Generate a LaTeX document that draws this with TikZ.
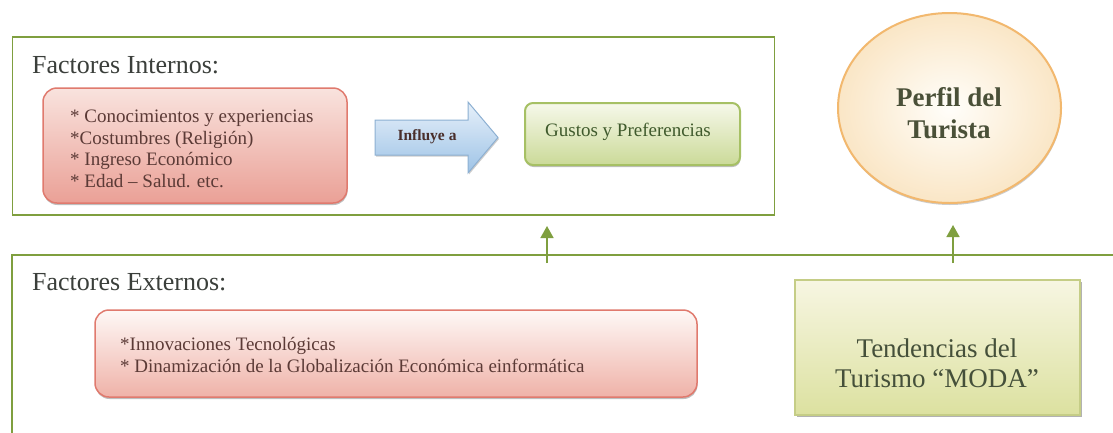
\documentclass[tikz,border=0pt]{standalone}
\usepackage{fontspec}
\setmainfont{Liberation Serif}
\usetikzlibrary{shapes.geometric,arrows.meta,shadows}
\definecolor{framegreen}{HTML}{7F9F3F}
\definecolor{headtxt}{HTML}{3B3F3B}
\definecolor{pinktxt}{HTML}{5B3A36}
\definecolor{pinkborder}{HTML}{E07A6E}
\definecolor{pinktop}{HTML}{F9E3DE}
\definecolor{pinkbot}{HTML}{EAA096}
\definecolor{pinktopb}{HTML}{FEF8F6}
\definecolor{pinkbotb}{HTML}{EFB2A8}
\definecolor{gustop}{HTML}{F6F8EA}
\definecolor{gusbot}{HTML}{CBDA98}
\definecolor{gusborder}{HTML}{A6C064}
\definecolor{gustxt}{HTML}{3F5A2C}
\definecolor{tentop}{HTML}{F7F6E2}
\definecolor{tenbot}{HTML}{DCE1A0}
\definecolor{tenborder}{HTML}{C5CD86}
\definecolor{tentxt}{HTML}{45503A}
\definecolor{arrtop}{HTML}{E6F0FA}
\definecolor{arrbot}{HTML}{9EC3E6}
\definecolor{arrborder}{HTML}{8DB0D2}
\definecolor{circin}{HTML}{FFFEFA}
\definecolor{circout}{HTML}{FAE6C6}
\definecolor{circborder}{HTML}{F2B86E}
\definecolor{perfiltxt}{HTML}{4A5038}
\tikzset{
  frame/.style={draw=framegreen, line width=1.5pt, rectangle, inner sep=0pt},
  heading/.style={font=\fontsize{26}{30}\selectfont, text=headtxt, inner sep=0pt},
  pinkbox/.style={draw=pinkborder, line width=1.5pt, rounded corners=14pt, inner sep=0pt,
    top color=pinktop, bottom color=pinkbot,
    drop shadow={shadow xshift=0.5pt, shadow yshift=-2pt, opacity=.25, fill=black}},
  pinkboxb/.style={draw=pinkborder, line width=1.5pt, rounded corners=14pt, inner sep=0pt,
    top color=pinktopb, bottom color=pinkbotb,
    drop shadow={shadow xshift=0.5pt, shadow yshift=-2pt, opacity=.25, fill=black}},
  listtxt/.style={font=\fontsize{19}{21.5}\selectfont, text=pinktxt, align=left, inner sep=0pt},
  gusbox/.style={draw=gusborder, line width=2pt, rounded corners=8pt, inner sep=0pt,
    top color=gustop, bottom color=gusbot,
    drop shadow={shadow xshift=0.5pt, shadow yshift=-2pt, opacity=.25, fill=black}},
  tenbox/.style={draw=tenborder, line width=2pt, inner sep=0pt,
    top color=tentop, bottom color=tenbot,
    drop shadow={shadow xshift=1.5pt, shadow yshift=-2pt, opacity=.3, fill=black}},
  bigarrow/.style={draw=arrborder, line width=1pt, top color=arrtop, bottom color=arrbot,
    drop shadow={shadow xshift=1pt, shadow yshift=-1.5pt, opacity=.2, fill=black}},
  upconn/.style={draw=framegreen, line width=1.5pt, -{Triangle[width=13pt,length=12pt]}},
}
\begin{document}
\begin{tikzpicture}[x=1pt,y=-1pt]
\useasboundingbox (0,0) rectangle (1113,432);
\fill[white] (0,0) rectangle (1113,432);
\clip (0,0) rectangle (1113,432);

% internal factors frame
\node[frame, minimum width=762pt, minimum height=178pt] (int) at (393.5,126) {};
\node[heading, anchor=base west] (inthead) at (32,73) {Factores Internos:};
\node[pinkbox, minimum width=304pt, minimum height=115pt] (intlist) at (195,145.5) {};
\node[listtxt, anchor=west] (intlisttxt) at (70,149) {* Conocimientos y experiencias\\*Costumbres (Religión)\\* Ingreso Económico\\* Edad – Salud. etc.};

% influence arrow (block arrow drawn as a shape)
\path[bigarrow] (375,120) -- (468,120) -- (468,102) -- (498,137.5) -- (468,173) -- (468,155) -- (375,155) -- cycle;
\node[font=\bfseries\fontsize{15.5}{18}\selectfont, text=pinktxt!80!black, inner sep=0pt] (infltxt) at (427,137) {Influye a};

% gustos
\node[gusbox, minimum width=215pt, minimum height=62pt] (gustos) at (632.5,134) {};
\node[font=\fontsize{19}{22}\selectfont, text=gustxt, inner sep=0pt] (gustostxt) at (628,132) {Gustos y Preferencias};

% perfil circle
\node[ellipse, draw=circborder, line width=2pt, inner color=circin, outer color=circout,
  minimum width=223pt, minimum height=190pt, inner sep=0pt,
  drop shadow={shadow xshift=0.5pt, shadow yshift=-2pt, opacity=.2, fill=black}] (perfil) at (949.5,108) {};
\node[font=\bfseries\fontsize{27}{32}\selectfont, text=perfiltxt, align=center, inner sep=0pt] (perfiltxtn) at (949,113) {Perfil del\\Turista};

% external factors frame (extends beyond the picture)
\node[frame, minimum width=1128pt, minimum height=205pt] (ext) at (576,357.5) {};
\node[heading, anchor=base west] (exthead) at (32,290) {Factores Externos:};
\node[pinkboxb, minimum width=602pt, minimum height=87pt] (extlist) at (396,353.5) {};
\node[listtxt, anchor=west, font=\fontsize{19}{22}\selectfont] (extlisttxt) at (120,355) {*Innovaciones Tecnológicas\\* Dinamización de la Globalización Económica einformática};

% tendencias
\node[tenbox, minimum width=285pt, minimum height=135pt] (tend) at (937.5,347.5) {};
\node[font=\fontsize{27}{30}\selectfont, text=tentxt, align=center, inner sep=0pt] (tendtxt) at (937,363) {Tendencias del\\Turismo “MODA”};

% connectors
\coordinate (s1) at (547,263);
\coordinate (t1) at (547,226);
\coordinate (s2) at (953,263);
\coordinate (t2) at (953,225);
\draw[upconn] (s1) -- (t1);
\draw[upconn] (s2) -- (t2);
\end{tikzpicture}
\end{document}
